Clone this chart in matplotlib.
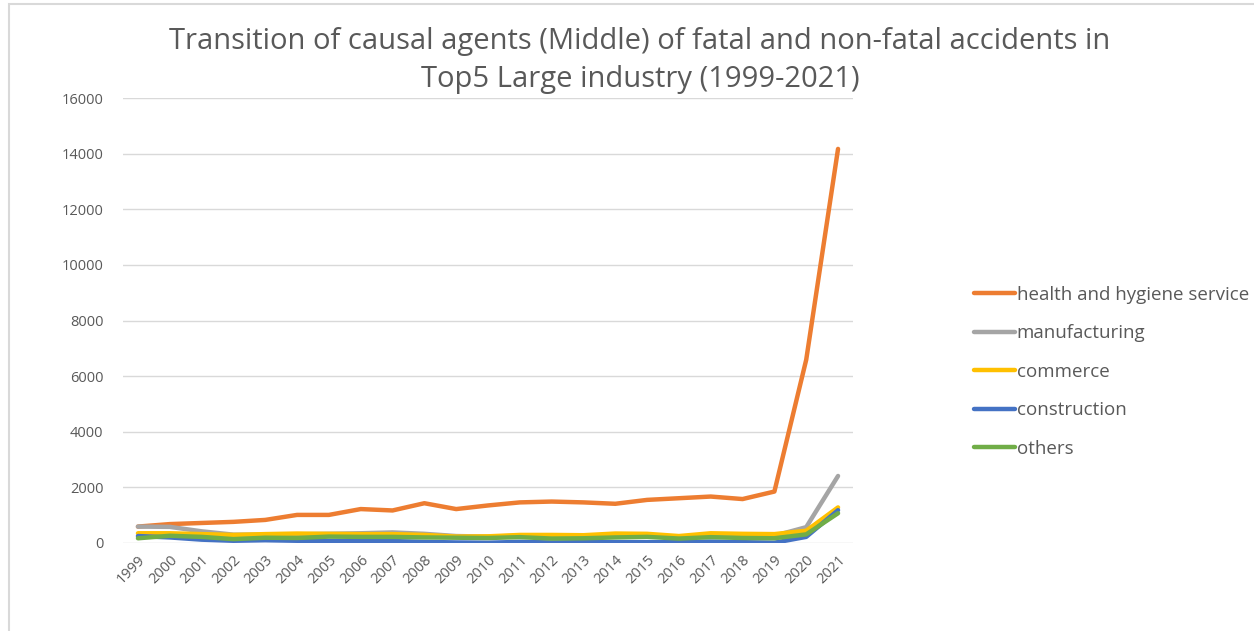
import matplotlib
matplotlib.use("Agg")
import matplotlib.pyplot as plt
from matplotlib.patches import Rectangle

years = [str(y) for y in range(1999, 2022)]

health = [590, 680, 720, 760, 830, 1010, 1010, 1220, 1170, 1430, 1220, 1350,
          1460, 1490, 1460, 1410, 1550, 1610, 1670, 1580, 1850, 6590, 14170]
manufacturing = [590, 580, 420, 300, 300, 310, 330, 350, 380, 330, 250, 230,
                 260, 240, 240, 260, 260, 220, 270, 250, 260, 570, 2410]
commerce = [350, 350, 320, 290, 320, 340, 330, 320, 320, 290, 230, 240,
            290, 290, 280, 340, 330, 250, 350, 330, 320, 440, 1280]
construction = [250, 200, 120, 80, 100, 80, 80, 70, 70, 40, 20, 10,
                40, 20, 30, 30, 30, 30, 50, 30, 10, 220, 1180]
others = [170, 260, 220, 140, 190, 180, 230, 220, 220, 200, 190, 180,
          210, 160, 170, 200, 220, 160, 210, 180, 170, 310, 1070]

series = [
    ("health and hygiene service", health, "#ED7D31"),
    ("manufacturing", manufacturing, "#A5A5A5"),
    ("commerce", commerce, "#FFC000"),
    ("construction", construction, "#4472C4"),
    ("others", others, "#70AD47"),
]

plt.rcParams["font.family"] = ["Open Sans", "DejaVu Sans"]
text_col = "#595959"

fig = plt.figure(figsize=(12.54, 6.31), dpi=100)
ax = fig.add_axes([123 / 1254, 1 - 543 / 631, 730 / 1254, 445 / 631])

x = list(range(len(years)))
for name, vals, col in series:
    ax.plot(x, vals, color=col, lw=3.2, label=name, solid_capstyle="round")

ax.set_xlim(-0.47, len(years) - 1 + 0.47)
ax.set_ylim(0, 16000)
ax.set_yticks(range(0, 16001, 2000))
ax.set_xticks(x)
ax.set_xticklabels(years, rotation=45, ha="right", rotation_mode="anchor")
ax.grid(axis="y", color="#D9D9D9", lw=1)
ax.set_axisbelow(True)
for s in ax.spines.values():
    s.set_visible(False)
ax.tick_params(length=0, colors=text_col, labelsize=10.5)
ax.tick_params(axis="y", pad=14)
ax.tick_params(axis="x", pad=7)

fig.suptitle("Transition of causal agents (Middle) of fatal and non-fatal accidents in\n"
             "Top5 Large industry (1999-2021)",
             x=640 / 1254, y=1 - 27 / 631, va="top", fontsize=21, color=text_col,
             linespacing=1.4)

leg = ax.legend(loc="upper left", bbox_to_anchor=(966 / 1254, 1 - 278 / 631),
                bbox_transform=fig.transFigure, frameon=False, fontsize=13.5,
                handlelength=2.2, handletextpad=0.1, labelspacing=1.1,
                borderaxespad=0)
for t in leg.get_texts():
    t.set_color(text_col)

fig.patches.append(Rectangle((9 / 1254, -0.1), 1.2, 1 - 4 / 631 + 0.1,
                             transform=fig.transFigure, fill=False,
                             ec="#D9D9D9", lw=1.5))

fig.savefig("out.png", dpi=100)
